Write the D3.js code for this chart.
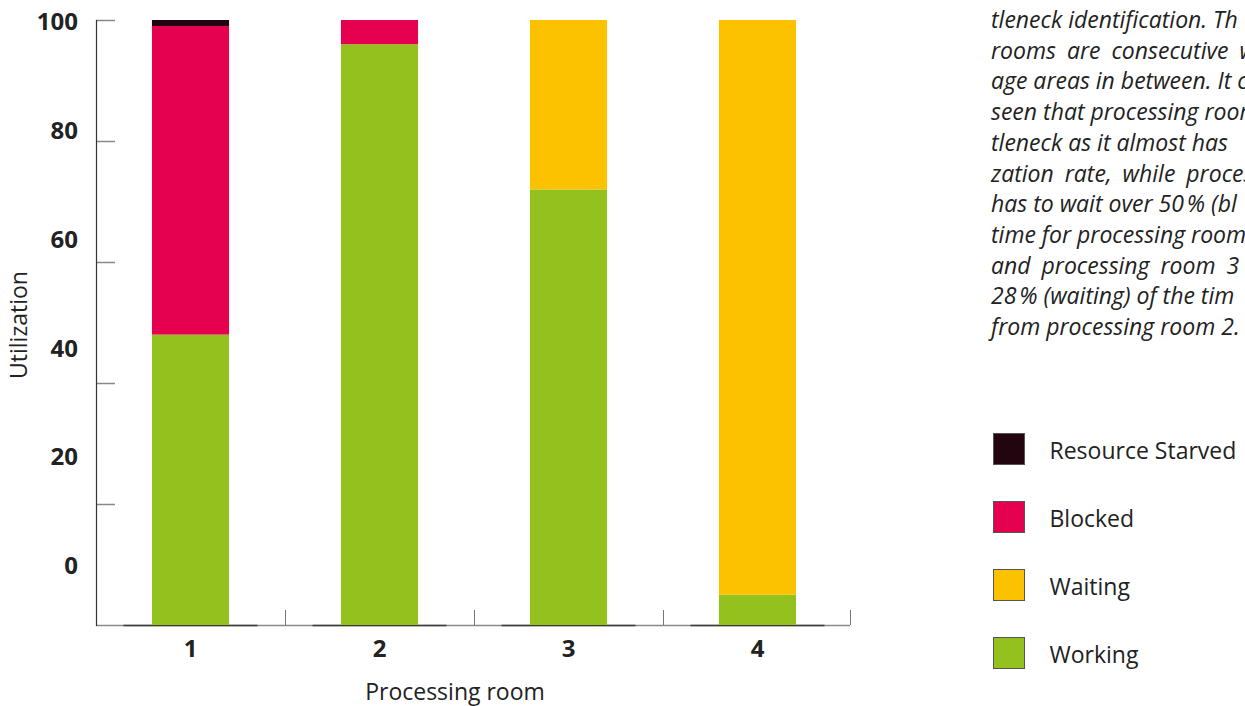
<!DOCTYPE html>
<html>
<head>
<meta charset="utf-8">
<script src="https://cdn.jsdelivr.net/npm/d3@7"></script>
<style>
  html, body { margin: 0; padding: 0; background: #fff; }
  svg { display: block; font-family: "Open Sans", "Noto Sans", sans-serif; }
</style>
</head>
<body>
<svg id="chart" width="1245" height="706"></svg>
<script>
// Utilization per processing room (percent of time in each state)
const rooms = ["1", "2", "3", "4"];
const states = ["Working", "Waiting", "Blocked", "Resource Starved"];
const working = [48, 96, 72, 5];
const waiting = [0, 0, 28, 95];
const blocked = [51, 4, 0, 0];
const starved = [1, 0, 0, 0];
const yTicks = [0, 20, 40, 60, 80, 100];
const legendOrder = ["Resource Starved", "Blocked", "Waiting", "Working"];
const noteLines = [
  "tleneck identification. Th",
  "rooms are consecutive w",
  "age areas in between. It c",
  "seen that processing room",
  "tleneck as it almost has",
  "zation rate, while proces",
  "has to wait over 50\u202F% (bl",
  "time for processing room",
  "and processing room 3",
  "28\u202F% (waiting) of the tim",
  "from processing room 2."
];

const colors = {
  "Working": "#95c11f",
  "Waiting": "#fcc200",
  "Blocked": "#e50050",
  "Resource Starved": "#22050f"
};

const svg = d3.select("#chart");

const plot = { left: 96, right: 852, top: 20, bottom: 625 };

const x = d3.scaleBand().domain(rooms).range([plot.left, plot.right]).padding(0);
const y = d3.scaleLinear().domain([0, 100]).range([plot.bottom, plot.top]);
// tick labels sit on their own, slightly compressed scale
const yLabel = d3.scaleLinear().domain([0, 100]).range([566, 22]);
const barW = x.bandwidth() * 0.408;

// stacked data
const table = rooms.map((r, i) => ({
  room: r,
  "Working": working[i],
  "Waiting": waiting[i],
  "Blocked": blocked[i],
  "Resource Starved": starved[i]
}));
const series = d3.stack().keys(states)(table);

// x baseline: light rule, darker segments under each bar slot
svg.append("line")
  .attr("x1", plot.left).attr("x2", plot.right - 2)
  .attr("y1", plot.bottom + 0.5).attr("y2", plot.bottom + 0.5)
  .attr("stroke", "#8a8a8a").attr("stroke-width", 1.5);
svg.append("g").selectAll("line").data(rooms).join("line")
  .attr("x1", d => x(d) + x.bandwidth() / 2 - 67)
  .attr("x2", d => x(d) + x.bandwidth() / 2 + 67)
  .attr("y1", plot.bottom + 0.5).attr("y2", plot.bottom + 0.5)
  .attr("stroke", "#3a3a3a").attr("stroke-width", 1.5);

// bars
svg.append("g").selectAll("g").data(series).join("g")
  .attr("fill", d => colors[d.key])
  .selectAll("rect").data(d => d).join("rect")
  .attr("x", d => x(d.data.room) + (x.bandwidth() - barW) / 2)
  .attr("width", barW)
  .attr("y", d => y(d[1]))
  .attr("height", d => y(d[0]) - y(d[1]));

// x ticks at band boundaries
const bounds = rooms.map(r => x(r)).concat([x(rooms[rooms.length - 1]) + x.bandwidth() - 2]);
svg.append("g").selectAll("line").data(bounds).join("line")
  .attr("x1", d => d + 0.5).attr("x2", d => d + 0.5)
  .attr("y1", plot.bottom - 15).attr("y2", plot.bottom)
  .attr("stroke", "#777").attr("stroke-width", 1);

// x labels
const xAxis = svg.append("g")
  .attr("transform", `translate(0,${plot.bottom})`)
  .call(d3.axisBottom(x).tickSize(0).tickPadding(0));
xAxis.select(".domain").remove();
xAxis.selectAll("text")
  .attr("y", 32).attr("dy", 0)
  .attr("font-size", 24).attr("font-weight", 700)
  .attr("font-family", "'Open Sans', sans-serif")
  .attr("fill", "#222");

// y axis: ticks on the linear scale, inward
const yAxisTicks = svg.append("g")
  .attr("transform", `translate(${plot.left},0)`)
  .call(d3.axisRight(y).tickValues(yTicks.filter(v => v > 0)).tickSize(19).tickFormat(""));
yAxisTicks.select(".domain").remove();
yAxisTicks.selectAll(".tick line").attr("stroke", "#888").attr("stroke-width", 1.5);
svg.append("line")
  .attr("x1", plot.left + 0.5).attr("x2", plot.left + 0.5)
  .attr("y1", plot.top).attr("y2", plot.bottom + 1)
  .attr("stroke", "#333").attr("stroke-width", 1.2);

// y labels
const yAxisLabels = svg.append("g")
  .attr("transform", `translate(${plot.left - 18},0)`)
  .call(d3.axisLeft(yLabel).tickValues(yTicks).tickSize(0).tickPadding(0));
yAxisLabels.select(".domain").remove();
yAxisLabels.selectAll("text")
  .attr("font-size", 24).attr("font-weight", 700)
  .attr("font-family", "'Open Sans', sans-serif")
  .attr("fill", "#222");

// axis titles
svg.append("text")
  .attr("x", 455).attr("y", 700)
  .attr("text-anchor", "middle")
  .attr("font-size", 23).attr("fill", "#222")
  .text("Processing room");
svg.append("text")
  .attr("transform", "translate(27,325) rotate(-90)")
  .attr("text-anchor", "middle")
  .attr("font-size", 23).attr("fill", "#222")
  .text("Utilization");

// legend
const legend = svg.append("g").selectAll("g").data(legendOrder).join("g")
  .attr("transform", (d, i) => `translate(993.5,${433.5 + i * 68})`);
legend.append("rect")
  .attr("width", 31).attr("height", 31)
  .attr("fill", d => colors[d])
  .attr("stroke", "#555").attr("stroke-width", 1);
legend.append("text")
  .attr("x", 56).attr("y", 25)
  .attr("font-size", 23).attr("fill", "#222")
  .text(d => d);

// side note, running past the page edge
const wideLines = new Set([1, 5, 8]);
svg.append("g").selectAll("text").data(noteLines).join("text")
  .attr("x", 991)
  .attr("y", (d, i) => 28 + i * 30.7)
  .attr("font-size", 23).attr("font-style", "italic").attr("fill", "#222")
  .attr("word-spacing", (d, i) => wideLines.has(i) ? 5 : 0)
  .text(d => d);
</script>
</body>
</html>
